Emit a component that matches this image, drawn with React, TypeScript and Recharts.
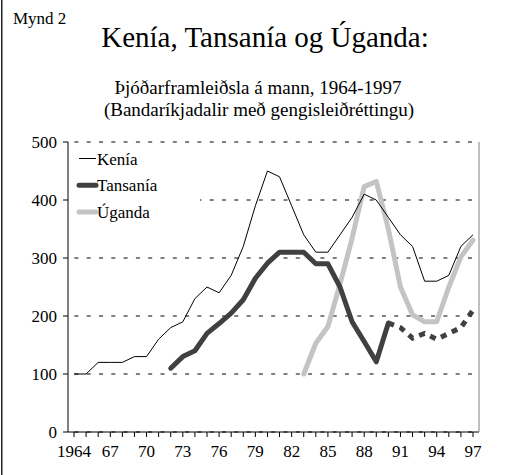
import React from 'react';
import { LineChart, Line, XAxis, YAxis, CartesianGrid, Legend } from 'recharts';

const years = [1964, 1965, 1966, 1967, 1968, 1969, 1970, 1971, 1972, 1973, 1974, 1975, 1976, 1977, 1978, 1979, 1980, 1981, 1982, 1983, 1984, 1985, 1986, 1987, 1988, 1989, 1990, 1991, 1992, 1993, 1994, 1995, 1996, 1997];

const kenya = [100, 100, 120, 120, 120, 130, 130, 160, 180, 190, 230, 250, 240, 270, 320, 390, 450, 440, 390, 340, 310, 310, 340, 370, 410, 400, 370, 340, 320, 260, 260, 270, 320, 340];

const tanzania = [null, null, null, null, null, null, null, null, 110, 130, 140, 170, 187, 205, 228, 265, 291, 310, 310, 310, 290, 290, 250, 190, 156, 121, 188, null, null, null, null, null, null, null];

const tanzaniaEst = [null, null, null, null, null, null, null, null, null, null, null, null, null, null, null, null, null, null, null, null, null, null, null, null, null, null, 188, 180, 162, 170, 160, 170, 180, 210];

const uganda = [null, null, null, null, null, null, null, null, null, null, null, null, null, null, null, null, null, null, null, 100, 153, 182, 255, 334, 423, 432, 350, 250, 202, 190, 190, 250, 302, 331];

const yTicks = [0, 100, 200, 300, 400, 500];
const labelYears = [1964, 1967, 1970, 1973, 1976, 1979, 1982, 1985, 1988, 1991, 1994, 1997];
const tickLabels = ['1964', '67', '70', '73', '76', '79', '82', '85', '88', '91', '94', '97'];

const figLabel = 'Mynd 2';
const title = 'Kenía, Tansanía og Úganda:';
const subtitle1 = 'Þjóðarframleiðsla á mann, 1964-1997';
const subtitle2 = '(Bandaríkjadalir með gengisleiðréttingu)';

const legendItems = [
  { name: 'Kenía', color: '#000000', width: 1 },
  { name: 'Tansanía', color: '#404040', width: 5 },
  { name: 'Úganda', color: '#c4c4c4', width: 5 },
];

const FONT = 'Liberation Serif, serif';

const data = years.map((year, i) => ({
  year,
  kenya: kenya[i],
  tanzania: tanzania[i],
  tanzaniaEst: tanzaniaEst[i],
  uganda: uganda[i],
}));

const textStyle = { fontFamily: FONT };

const LegendBox = () => (
  <svg width={131} height={82} style={{ display: 'block', background: '#fff', fontFamily: FONT }}>
    {legendItems.map((it, i) => {
      const cy = 15.5 + i * 26.7;
      return (
        <g key={it.name}>
          <line x1={10} x2={27} y1={cy} y2={cy} stroke={it.color} strokeWidth={it.width} strokeLinecap={it.width > 1 ? 'round' : 'butt'} />
          <text x={28} y={cy + 6} style={textStyle} fontSize={17} fill="#000">{it.name}</text>
        </g>
      );
    })}
  </svg>
);

export default function App() {
  return (
    <div style={{ position: 'absolute', left: 0, top: 0, width: 511, height: 475, background: '#fff', fontFamily: FONT }}>
      <svg width={511} height={475} style={{ position: 'absolute', left: 0, top: 0, fontFamily: FONT }}>
        <rect x={1} y={0} width={1.5} height={475} fill="#222" />
        <text x={13} y={24} style={textStyle} fontSize={17} fill="#000">{figLabel}</text>
        <text x={265} y={47} style={textStyle} fontSize={29} fill="#000" textAnchor="middle">{title}</text>
        <text x={258} y={94} style={textStyle} fontSize={19} fill="#000" textAnchor="middle">{subtitle1}</text>
        <text x={259} y={116} style={textStyle} fontSize={19} fill="#000" textAnchor="middle">{subtitle2}</text>
      </svg>
      <div style={{ position: 'absolute', left: 0, top: 0 }}>
        <LineChart width={511} height={475} data={data} margin={{ top: 142, right: 0, bottom: 0, left: 0 }} style={{ fontFamily: FONT }}>
          <CartesianGrid vertical={false} stroke="#000" strokeDasharray="0 6.4 4 1.9" />
          <XAxis
            dataKey="year"
            type="number"
            domain={[1964, 1997]}
            ticks={years}
            interval={0}
            padding={{ left: 6, right: 6 }}
            height={43}
            tickSize={5}
            tickMargin={8}
            axisLine={{ stroke: '#000' }}
            tickLine={{ stroke: '#000' }}
            tick={{ fill: '#000', fontSize: 17, fontFamily: FONT, style: textStyle }}
            tickFormatter={(v: number) => {
              const k = labelYears.indexOf(v);
              return k >= 0 ? tickLabels[k] : '';
            }}
          />
          <YAxis
            domain={[0, 500]}
            ticks={yTicks}
            interval={0}
            width={68}
            tickSize={5}
            tickMargin={6}
            axisLine={{ stroke: '#000' }}
            tickLine={{ stroke: '#000' }}
            tick={{ fill: '#000', fontSize: 17, fontFamily: FONT, style: textStyle }}
          />
          <YAxis yAxisId="right" orientation="right" width={32} domain={[0, 500]} tick={false} tickLine={false} axisLine={{ stroke: '#808080' }} />
          <Legend
            layout="vertical"
            align="center"
            verticalAlign="middle"
            wrapperStyle={{ left: 69, top: 143, width: 131, height: 82 }}
            content={() => <LegendBox />}
          />
          <Line dataKey="uganda" name="Úganda" stroke="#c4c4c4" strokeWidth={5} dot={false} activeDot={false} strokeLinejoin="round" strokeLinecap="round" isAnimationActive={false} />
          <Line dataKey="tanzania" name="Tansanía" stroke="#404040" strokeWidth={5} dot={false} activeDot={false} strokeLinejoin="round" strokeLinecap="round" isAnimationActive={false} />
          <Line dataKey="tanzaniaEst" name="Tansanía (áætlun)" legendType="none" stroke="#404040" strokeWidth={5} strokeDasharray="6 6" dot={false} activeDot={false} isAnimationActive={false} />
          <Line dataKey="kenya" name="Kenía" stroke="#000" strokeWidth={1} dot={false} activeDot={false} isAnimationActive={false} />
        </LineChart>
      </div>
    </div>
  );
}
